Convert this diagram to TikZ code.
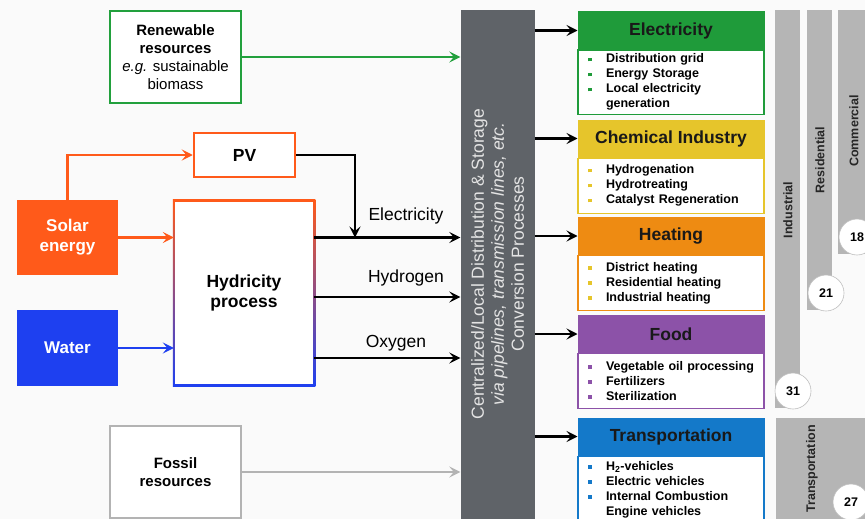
\documentclass[tikz,border=0pt]{standalone}
\usepackage{fontspec}
\setmainfont{Liberation Sans}
\usepackage{tikz}
\usetikzlibrary{arrows.meta,positioning,calc}
\usepackage{xcolor}
\definecolor{bgcol}{HTML}{FAFAFA}
\definecolor{solarred}{HTML}{FF5A1A}
\definecolor{waterblue}{HTML}{1E40F0}
\definecolor{hydmid}{HTML}{B045A0}
\definecolor{renewgreen}{HTML}{22A03D}
\definecolor{fossilgray}{HTML}{B3B3B3}
\definecolor{distgray}{HTML}{5F6368}
\definecolor{distlbl}{HTML}{E4E4E4}
\definecolor{elecgreen}{HTML}{1F9B3A}
\definecolor{chemyellow}{HTML}{E6C52B}
\definecolor{heatorange}{HTML}{EE8B12}
\definecolor{foodpurple}{HTML}{8C52A8}
\definecolor{transblue}{HTML}{1479C9}
\definecolor{sectorgray}{HTML}{B5B5B5}
\newcommand{\catitem}[2]{\makebox[18pt][l]{\textcolor{#1}{\rule[1.5pt]{3.8pt}{3.8pt}}}#2}

\begin{document}
\begin{tikzpicture}[
  x=1pt, y=-1pt,
  arr/.style={-{Stealth[length=11pt, width=11pt, inset=4.5pt]}, line width=2.4pt},
  srcbox/.style={draw=#1, line width=2.5pt, fill=white, align=center, inner sep=0pt, font=\fontsize{15}{18}\selectfont},
  inbox/.style={fill=#1, align=center, text=white, minimum width=101pt, font=\bfseries\fontsize{17}{20}\selectfont},
  flowlbl/.style={anchor=base, font=\fontsize{17.5}{20}\selectfont},
  cathead/.style={fill=#1, draw=#1, line width=1pt, minimum width=186pt, minimum height=37pt, text=black!90, font=\bfseries\fontsize{17.5}{20}\selectfont},
  catlist/.style={draw=#1, line width=1.2pt, fill=white, text width=166pt, inner xsep=10pt, inner ysep=0pt, align=left, font=\bfseries\fontsize{12.5}{15}\selectfont},
  sector/.style={fill=sectorgray, anchor=north, inner sep=0pt},
  sectorlbl/.style={rotate=90, text=black!85, font=\bfseries\fontsize{12.5}{15}\selectfont},
  num/.style={circle, fill=white, draw=black!25, line width=0.6pt, minimum size=36pt, inner sep=0pt, font=\bfseries\fontsize{12.5}{15}\selectfont}
]
  \useasboundingbox (0,0) rectangle (865,519);
  \clip (0,0) rectangle (865,519);
  \fill[bgcol] (0,0) rectangle (865,519);

  % Sources
  \node[srcbox=renewgreen, minimum width=131pt, minimum height=92pt] (renew) at (175.5,57) {\textbf{Renewable}\\\textbf{resources}\\\textit{e.g.} sustainable\\biomass};
  \node[srcbox=fossilgray, minimum width=131pt, minimum height=92pt] (fossil) at (175.5,472) {\textbf{Fossil}\\\textbf{resources}};
  \node[inbox=solarred, minimum height=75pt] (solar) at (67.5,237.5) {Solar\\energy};
  \node[inbox=waterblue, minimum height=76pt] (water) at (67.5,348) {Water};
  \node[srcbox=solarred, minimum width=101pt, minimum height=44pt, font=\bfseries\fontsize{17.5}{20}\selectfont] (pv) at (244.5,155) {PV};

  % Hydricity process
  \shade[top color=solarred, middle color=hydmid, bottom color=waterblue] (172.75,199.75) rectangle (315.25,386.25);
  \fill[white] (175.25,202.25) rectangle (312.75,383.75);
  \node[minimum width=140pt, minimum height=184pt, align=center, font=\bfseries\fontsize{17.5}{20}\selectfont] (hyd) at (244,293) {Hydricity\\process};
  \coordinate (h2out) at ([yshift=-4pt]hyd.east);
  \coordinate (o2out) at ([yshift=-65pt]hyd.east);

  % Distribution bar
  \node[fill=distgray, minimum width=74pt, minimum height=530pt, anchor=north, inner sep=0pt] (dist) at (497.5,10) {};
  \node[rotate=90, text=distlbl, align=center, font=\fontsize{17.5}{20}\selectfont] (distlabel) at (497.5,264) {Centralized/Local Distribution \& Storage\\\textit{via pipelines, transmission lines, etc.}\\Conversion Processes};

  \draw[arr, solarred] (solar.north) |- (pv.west);
  \draw[arr, solarred] (solar.east) -- (hyd.west |- solar.east);
  \draw[arr, waterblue] (water.east) -- (hyd.west |- water.east);

  \coordinate (ejoin) at (355,237.5);
  \draw[arr] (hyd.east |- solar.east) -- (dist.west |- solar.east);
  \draw[arr] (h2out) -- (dist.west |- h2out);
  \draw[arr] (o2out) -- (dist.west |- o2out);
  \draw[arr] (pv.east) -| (ejoin);
  \node[flowlbl] (elbl) at (406,220) {Electricity};
  \node[flowlbl] (hlbl) at (406,282) {Hydrogen};
  \node[flowlbl] (olbl) at (396,347) {Oxygen};

  \draw[arr, renewgreen] (renew.east) -- (dist.west |- renew.east);
  \draw[arr, fossilgray] (fossil.east) -- (dist.west |- fossil.east);

  % Sectors
  \node[cathead=elecgreen] (elechead) at (671,30.5) {Electricity};
  \node[catlist=elecgreen, minimum height=64pt, below=0pt of elechead] (eleclist) {\catitem{elecgreen}{Distribution grid}\\\catitem{elecgreen}{Energy Storage}\\\catitem{elecgreen}{Local electricity}\\\hspace*{18pt}generation};
  \node[cathead=chemyellow] (chemhead) at (671,138.5) {Chemical Industry};
  \node[catlist=chemyellow, minimum height=55pt, below=0pt of chemhead] (chemlist) {\catitem{chemyellow}{Hydrogenation}\\\catitem{chemyellow}{Hydrotreating}\\\catitem{chemyellow}{Catalyst Regeneration}};
  \node[cathead=heatorange] (heathead) at (671,236) {Heating};
  \node[catlist=heatorange, minimum height=55pt, below=0pt of heathead] (heatlist) {\catitem{chemyellow}{District heating}\\\catitem{chemyellow}{Residential heating}\\\catitem{chemyellow}{Industrial heating}};
  \node[cathead=foodpurple] (foodhead) at (671,334) {Food};
  \node[catlist=foodpurple, minimum height=55pt, below=0pt of foodhead] (foodlist) {\catitem{foodpurple}{Vegetable oil processing}\\\catitem{foodpurple}{Fertilizers}\\\catitem{foodpurple}{Sterilization}};
  \node[cathead=transblue] (transhead) at (671,436.5) {Transportation};
  \node[catlist=transblue, minimum height=67pt, below=0pt of transhead] (translist) {\catitem{transblue}{H\textsubscript{2}-vehicles}\\\catitem{transblue}{Electric vehicles}\\\catitem{transblue}{Internal Combustion}\\\hspace*{18pt}Engine vehicles};

  \foreach \h in {elechead,chemhead,heathead,foodhead,transhead}
    \draw[arr] (dist.east |- \h.west) -- (\h.west);

  % End-use shares
  \node[sector, minimum width=25pt, minimum height=398pt] (indbar) at (787.5,10) {};
  \node[sector, minimum width=25pt, minimum height=300pt] (resbar) at (819.5,10) {};
  \node[sector, minimum width=37pt, minimum height=244pt] (combar) at (856.5,10) {};
  \node[sector, minimum width=99pt, minimum height=112pt] (trabar) at (825.5,418) {};
  \node[sectorlbl] (indlbl) at (788,210) {Industrial};
  \node[sectorlbl] (reslbl) at (820,160) {Residential};
  \node[sectorlbl] (comlbl) at (854,131) {Commercial};
  \node[sectorlbl] (tralbl) at (812,469) {Transportation};
  \node[num] (n31) at (793,391) {31};
  \node[num] (n21) at (826,293) {21};
  \node[num] (n18) at (857,237) {18};
  \node[num] (n27) at (851,502) {27};
\end{tikzpicture}
\end{document}
